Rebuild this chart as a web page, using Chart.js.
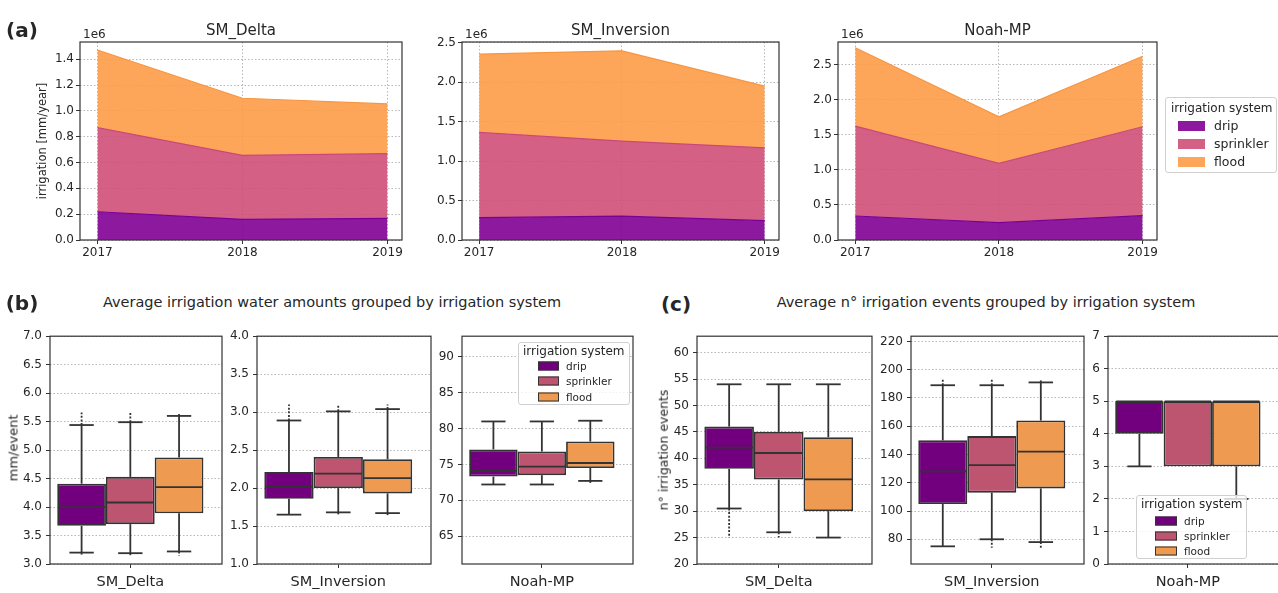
<!DOCTYPE html>
<html>
<head>
<meta charset="utf-8">
<title>Irrigation by system</title>
<script src="https://cdn.jsdelivr.net/npm/chart.js@4.4.1/dist/chart.umd.min.js"></script>
<style>
  body { margin: 0; background: #fff; }
  #fig { position: relative; width: 1278px; height: 593px; overflow: hidden; font-family: "DejaVu Sans", sans-serif; color: #262626; }
  #fig canvas { position: absolute; }
  .txt { position: absolute; white-space: nowrap; line-height: 1; transform: translate(-50%, -50%); }
  .lbl { position: absolute; white-space: nowrap; line-height: 1; transform: translateY(-50%); }
  .vert { position: absolute; white-space: nowrap; line-height: 1; transform: translate(-50%, -50%) rotate(-90deg); }
  .legend { position: absolute; background: rgba(255,255,255,0.8); border: 1px solid #d0d0d0; border-radius: 3px; box-sizing: border-box; z-index: 2; }
  .patch { position: absolute; box-sizing: border-box; transform: translateY(-50%); }
</style>
</head>
<body>
<div id="fig"></div>
<script>
const years = [2017, 2018, 2019];
const systems = ['drip', 'sprinkler', 'flood'];
const models = ['SM_Delta', 'SM_Inversion', 'Noah-MP'];

// (a) yearly irrigation per system, mm/year
const deltaDrip = [219000, 160000, 168000];
const deltaSprinkler = [651000, 496000, 501000];
const deltaFlood = [602000, 442000, 385000];
const inversionDrip = [283000, 304000, 245000];
const inversionSprinkler = [1082000, 951000, 925000];
const inversionFlood = [992000, 1145000, 782000];
const noahDrip = [342000, 247000, 346000];
const noahSprinkler = [1280000, 844000, 1267000];
const noahFlood = [1115000, 664000, 1005000];
const deltaTicks = [0, 200000, 400000, 600000, 800000, 1000000, 1200000, 1400000];
const inversionTicks = [0, 500000, 1000000, 1500000, 2000000, 2500000];
const noahTicks = [0, 500000, 1000000, 1500000, 2000000, 2500000];

// (b) mm/event, one row per model, [drip, sprinkler, flood]
const amountQ1 = [[3.67, 3.70, 3.89], [1.86, 2.00, 1.93], [73.3, 73.5, 74.5]];
const amountMedian = [[4.00, 4.08, 4.35], [2.02, 2.19, 2.13], [74.1, 74.7, 75.2]];
const amountQ3 = [[4.41, 4.53, 4.87], [2.21, 2.41, 2.38], [77.1, 76.8, 78.2]];
const amountLow = [[3.20, 3.19, 3.22], [1.65, 1.68, 1.67], [72.2, 72.2, 72.7]];
const amountHigh = [[5.44, 5.49, 5.60], [2.89, 3.01, 3.04], [81.0, 81.0, 81.1]];
const amountOutLow = [[3.15, 3.15, 3.15], [null, 1.64, 1.64], [null, null, 72.2]];
const amountOutHigh = [[5.66, 5.66, 5.66], [3.10, 3.10, 3.10], [null, null, null]];
const amountTicks = [[3, 3.5, 4, 4.5, 5, 5.5, 6, 6.5, 7], [1, 1.5, 2, 2.5, 3, 3.5, 4], [65, 70, 75, 80, 85, 90]];

// (c) number of irrigation events
const eventsQ1 = [[38, 36, 30], [105, 113, 116], [4, 3, 3]];
const eventsMedian = [[42, 41, 36], [128, 132.5, 142], [5, 5, 5]];
const eventsQ3 = [[46, 45, 44], [150, 153, 164], [5, 5, 5]];
const eventsLow = [[30.5, 26, 25], [75, 80, 78], [3, 3, 2]];
const eventsHigh = [[54, 54, 54], [189, 189, 191], [5, 5, 5]];
const eventsOutLow = [[25, 25, null], [null, 74, 74], [null, null, null]];
const eventsOutHigh = [[null, null, null], [193, 193, 193], [null, null, null]];
const eventsTicks = [[20, 25, 30, 35, 40, 45, 50, 55, 60], [80, 100, 120, 140, 160, 180, 200, 220], [0, 1, 2, 3, 4, 5, 6, 7]];

const fig = document.getElementById('fig');
Chart.defaults.font.family = '"DejaVu Sans", sans-serif';
Chart.defaults.color = '#262626';

const areaFill = ['rgba(127,0,147,0.9)', 'rgba(207,80,120,0.9)', 'rgba(253,156,72,0.9)'];
const areaLine = ['#7a0096', '#cc4778', '#f89540'];
const boxFill = ['#72007e', '#be5570', '#ee9a50'];
const edge = '#333';
const gridColor = 'rgba(165,165,165,0.8)';

function text(str, x, y, css, cls) {
  const d = document.createElement('div');
  d.className = cls || 'txt';
  d.textContent = str;
  d.style.cssText = `left:${x}px;top:${y}px;` + (css || '');
  fig.appendChild(d);
}

function legend(o) {
  const box = document.createElement('div');
  box.className = 'legend';
  box.style.cssText = `left:${o.left}px;top:${o.top}px;width:${o.width}px;height:${o.height}px`;
  const t = document.createElement('div');
  t.className = 'lbl';
  t.textContent = 'irrigation system';
  t.style.cssText = `left:${o.titleLeft - o.left}px;top:${o.titleY - o.top}px;font-size:${o.titleSize}px`;
  box.appendChild(t);
  systems.forEach((s, i) => {
    const p = document.createElement('div');
    p.className = 'patch';
    p.style.cssText = `left:${o.patchLeft - o.left}px;top:${o.rows[i] - o.top}px;width:${o.patchW}px;height:${o.patchH}px;background:${o.colors[i]};` + (o.patchBorder ? `border:1px solid ${o.patchBorder}` : '');
    box.appendChild(p);
    const l = document.createElement('div');
    l.className = 'lbl';
    l.textContent = s;
    l.style.cssText = `left:${o.textLeft - o.left}px;top:${o.rows[i] - o.top}px;font-size:${o.itemSize}px`;
    box.appendChild(l);
  });
  fig.appendChild(box);
}

// box around the plot area, like matplotlib spines
const frame = {
  id: 'frame',
  afterDraw(chart) {
    const a = chart.chartArea, ctx = chart.ctx;
    ctx.save();
    ctx.strokeStyle = '#333';
    ctx.lineWidth = 1.2;
    ctx.strokeRect(a.left, a.top, a.right - a.left, a.bottom - a.top);
    ctx.restore();
  }
};

// medians, whiskers, caps and outliers on top of the floating bars
const whiskers = {
  id: 'whiskers',
  afterDatasetsDraw(chart) {
    const ctx = chart.ctx, y = chart.scales.y;
    const seg = (x1, y1, x2, y2) => { ctx.beginPath(); ctx.moveTo(x1, y1); ctx.lineTo(x2, y2); ctx.stroke(); };
    chart.data.datasets.forEach((ds, i) => {
      const bar = chart.getDatasetMeta(i).data[0];
      const st = ds.stats, x = bar.x, half = bar.width / 2, cap = bar.width / 4;
      const q1 = y.getPixelForValue(ds.data[0].y[0]), q3 = y.getPixelForValue(ds.data[0].y[1]);
      const lo = y.getPixelForValue(st.lo), hi = y.getPixelForValue(st.hi);
      ctx.save();
      ctx.strokeStyle = edge;
      ctx.lineWidth = 1.8;
      seg(x - half + 1, y.getPixelForValue(st.med), x + half - 1, y.getPixelForValue(st.med));
      if (st.hi > ds.data[0].y[1]) { seg(x, q3, x, hi); seg(x - cap, hi, x + cap, hi); }
      if (st.lo < ds.data[0].y[0]) { seg(x, q1, x, lo); seg(x - cap, lo, x + cap, lo); }
      ctx.setLineDash([2, 1.6]);
      if (st.outHi != null) seg(x, hi, x, y.getPixelForValue(st.outHi));
      if (st.outLo != null) seg(x, lo, x, y.getPixelForValue(st.outLo));
      ctx.restore();
    });
  }
};

function fixedTicks(values) {
  return s => { s.ticks = values.map(v => ({ value: v })); };
}

function panel(area, m, config) {
  const w = area.r - area.l + m.l + m.r, h = area.b - area.t + m.t + m.b;
  const c = document.createElement('canvas');
  c.width = w; c.height = h;
  c.style.cssText = `left:${area.l - m.l}px;top:${area.t - m.t}px;width:${w}px;height:${h}px`;
  fig.appendChild(c);
  const o = config.options;
  o.responsive = false;
  o.animation = false;
  o.devicePixelRatio = 1;
  o.layout = { padding: { left: 0, right: m.r, top: m.t, bottom: 0 } };
  o.scales.x.afterFit = s => { s.height = m.b; };
  o.scales.y.afterFit = s => { s.width = m.l; };
  o.plugins = { legend: { display: false }, tooltip: { enabled: false } };
  return new Chart(c, config);
}

function areaPanel(area, title, series, yMax, ticks) {
  panel(area, { l: 45, r: 22, t: 12, b: 26 }, {
    type: 'line',
    data: {
      datasets: series.map((vals, i) => ({
        label: systems[i],
        data: years.map((x, j) => ({ x, y: vals[j] })),
        fill: i === 0 ? 'origin' : '-1',
        backgroundColor: areaFill[i],
        borderColor: areaLine[i],
        borderWidth: 1.2,
        pointRadius: 0,
        tension: 0
      }))
    },
    options: {
      scales: {
        x: {
          type: 'linear', min: 2016.88, max: 2019.1,
          afterBuildTicks: fixedTicks(years),
          ticks: { callback: v => String(v), font: { size: 12 }, padding: 2, maxRotation: 0, autoSkip: false },
          grid: { color: gridColor, tickColor: '#333', tickLength: 4 },
          border: { display: false, dash: [1.5, 2] }
        },
        y: {
          stacked: true, min: 0, max: yMax,
          afterBuildTicks: fixedTicks(ticks),
          ticks: { callback: v => (v / 1e6).toFixed(1), font: { size: 12 }, padding: 2, autoSkip: false },
          grid: { color: gridColor, tickColor: '#333', tickLength: 4 },
          border: { display: false, dash: [1.5, 2] }
        }
      }
    },
    plugins: [frame]
  });
  text(title, (area.l + area.r) / 2, 30, 'font-size:15px');
  text('1e6', area.l + 3, 34, 'font-size:12px', 'lbl');
}

function boxPanel(area, k, s, yMin, yMax, ticks, decimals) {
  panel(area, { l: 42, r: 6, t: 10, b: 32 }, {
    type: 'bar',
    data: {
      datasets: systems.map((name, i) => ({
        label: name,
        data: [{ x: 0, y: [s.q1[k][i], s.q3[k][i]] }],
        stats: { med: s.med[k][i], lo: s.lo[k][i], hi: s.hi[k][i], outLo: s.outLo[k][i], outHi: s.outHi[k][i] },
        backgroundColor: boxFill[i],
        borderColor: edge,
        borderWidth: 1.8,
        borderSkipped: false,
        categoryPercentage: 0.85,
        barPercentage: 1
      }))
    },
    options: {
      scales: {
        x: {
          type: 'linear', min: -0.467, max: 0.533, offset: false,
          afterBuildTicks: fixedTicks([0]),
          ticks: { callback: () => models[k], font: { size: 14.5 }, padding: 6, maxRotation: 0 },
          grid: { drawOnChartArea: false, offset: false, tickColor: '#333', tickLength: 4 },
          border: { display: false }
        },
        y: {
          min: yMin, max: yMax,
          afterBuildTicks: fixedTicks(ticks),
          ticks: { callback: v => v.toFixed(decimals), font: { size: 12 }, padding: 4, autoSkip: false },
          grid: { color: gridColor, tickColor: '#333', tickLength: 4 },
          border: { display: false, dash: [1.5, 2] }
        }
      }
    },
    plugins: [whiskers, frame]
  });
}

// (a)
areaPanel({ l: 80, r: 402, t: 42, b: 240 }, models[0], [deltaDrip, deltaSprinkler, deltaFlood], 1534000, deltaTicks);
areaPanel({ l: 462, r: 779, t: 42, b: 240 }, models[1], [inversionDrip, inversionSprinkler, inversionFlood], 2512000, inversionTicks);
areaPanel({ l: 838, r: 1157, t: 42, b: 240 }, models[2], [noahDrip, noahSprinkler, noahFlood], 2820000, noahTicks);
text('(a)', 22, 30, 'font-size:20px;font-weight:bold');
text('irrigation [mm/year]', 43, 141, 'font-size:11.5px', 'vert');
legend({ left: 1165, top: 97, width: 112, height: 76, titleLeft: 1170, titleY: 107, titleSize: 12,
  rows: [125, 143, 161], patchLeft: 1177, patchW: 27, patchH: 10, textLeft: 1213, itemSize: 12.5, colors: areaFill });

// (b)
const amounts = { q1: amountQ1, med: amountMedian, q3: amountQ3, lo: amountLow, hi: amountHigh, outLo: amountOutLow, outHi: amountOutHigh };
boxPanel({ l: 50, r: 222, t: 335, b: 564 }, 0, amounts, 3, 7, amountTicks[0], 1);
boxPanel({ l: 257, r: 431, t: 335, b: 564 }, 1, amounts, 1, 4, amountTicks[1], 1);
boxPanel({ l: 462, r: 633, t: 335, b: 564 }, 2, amounts, 61.1, 92.9, amountTicks[2], 0);
text('(b)', 22, 303, 'font-size:20px;font-weight:bold');
text('Average irrigation water amounts grouped by irrigation system', 332, 302, 'font-size:14.5px');
text('mm/event', 13, 448, 'font-size:13px', 'vert');
legend({ left: 518, top: 342, width: 112, height: 63, titleLeft: 522, titleY: 350, titleSize: 12,
  rows: [365, 380, 396], patchLeft: 537, patchW: 21, patchH: 9, textLeft: 565, itemSize: 10.5, colors: boxFill, patchBorder: edge });

// (c)
const events = { q1: eventsQ1, med: eventsMedian, q3: eventsQ3, lo: eventsLow, hi: eventsHigh, outLo: eventsOutLow, outHi: eventsOutHigh };
boxPanel({ l: 697, r: 872, t: 335, b: 564 }, 0, events, 20, 63.1, eventsTicks[0], 0);
boxPanel({ l: 911, r: 1084, t: 335, b: 564 }, 1, events, 62.5, 223.7, eventsTicks[1], 0);
boxPanel({ l: 1108, r: 1279, t: 335, b: 564 }, 2, events, 0, 7, eventsTicks[2], 0);
text('(c)', 676, 304, 'font-size:20px;font-weight:bold');
text('Average n° irrigation events grouped by irrigation system', 986, 302, 'font-size:14.5px');
text('n° irrigation events', 664, 450, 'font-size:12.5px', 'vert');
legend({ left: 1136, top: 495, width: 111, height: 64, titleLeft: 1140, titleY: 503, titleSize: 12,
  rows: [520, 535, 549.5], patchLeft: 1154, patchW: 22, patchH: 9, textLeft: 1183, itemSize: 10.5, colors: boxFill, patchBorder: edge });
</script>
</body>
</html>
